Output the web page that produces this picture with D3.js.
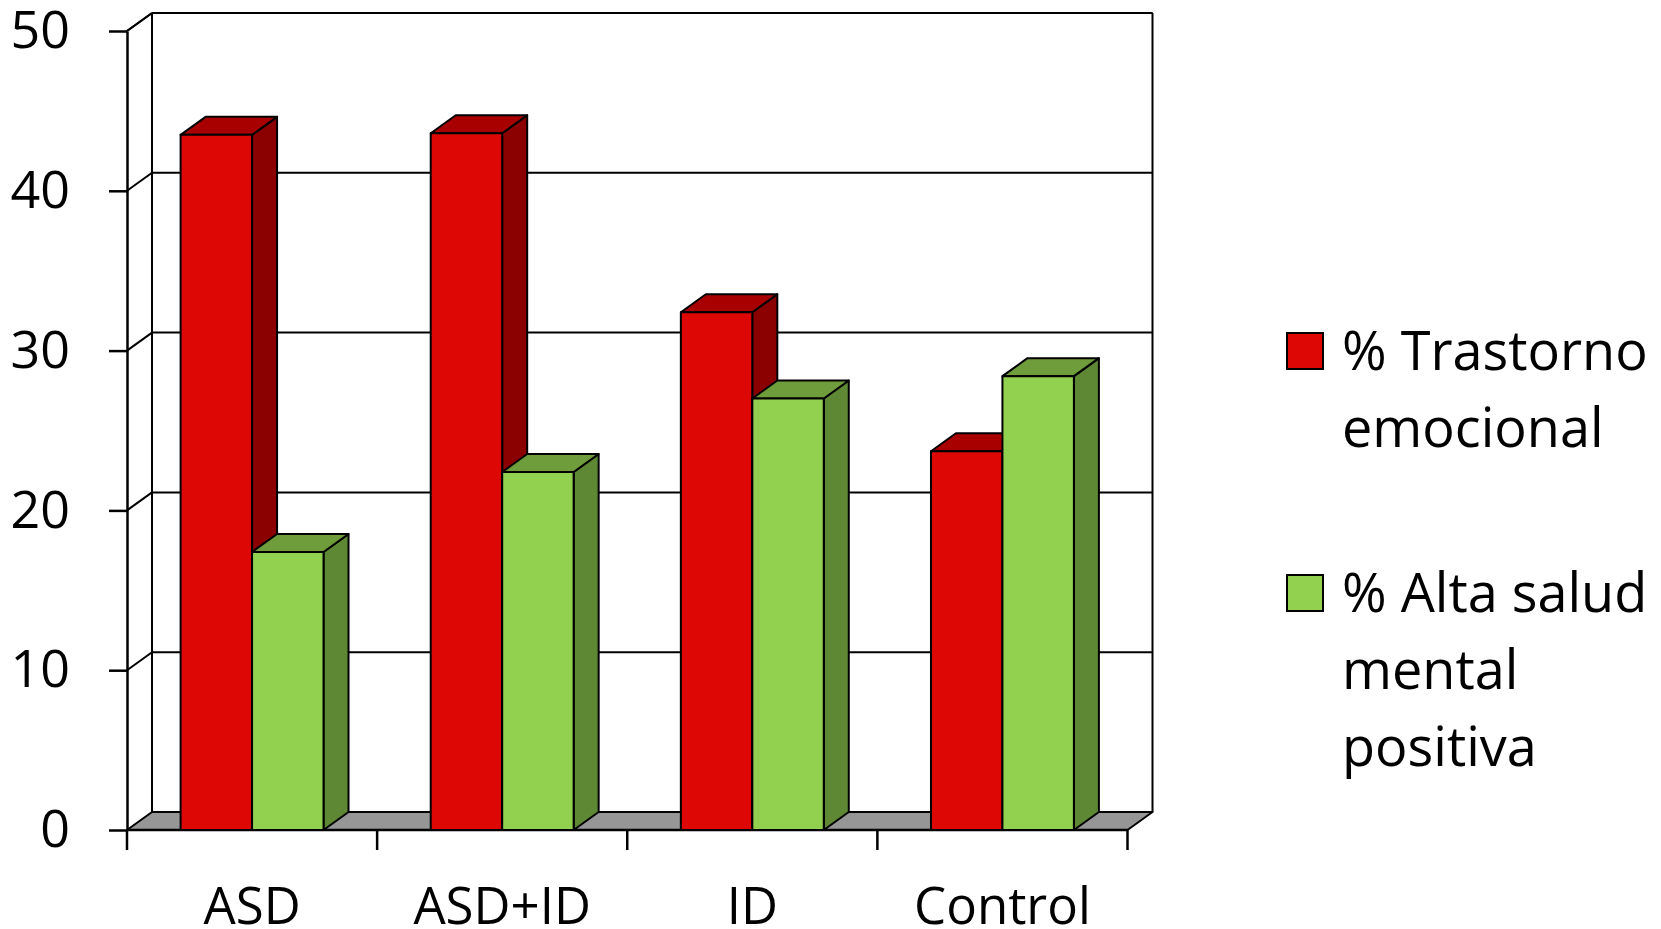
<!DOCTYPE html>
<html>
<head>
<meta charset="utf-8">
<script src="https://cdn.jsdelivr.net/npm/d3@7"></script>
<style>
  html, body { margin: 0; padding: 0; background: #fff; }
  svg { display: block; font-family: "Open Sans", Lato, sans-serif; }
</style>
</head>
<body>
<svg id="chart" width="1661" height="929"></svg>
<script>
// Categories, series and values
const categories = ["ASD", "ASD+ID", "ID", "Control"];
const seriesNames = ["% Trastorno emocional", "% Alta salud mental positiva"];
const trastorno = [43.5, 43.6, 32.4, 23.7];
const altaSalud = [17.4, 22.4, 27.0, 28.4];
const yTicks = [0, 10, 20, 30, 40, 50];
const legendLines = [["% Trastorno", "emocional"], ["% Alta salud", "mental", "positiva"]];

const seriesValues = [trastorno, altaSalud];
const faces = [
  { front: "#dd0806", top: "#a80000", side: "#8b0000" },
  { front: "#92d050", top: "#6f9d3b", side: "#5e8833" }
];
const FONT = "'Open Sans', Lato, sans-serif";

const svg = d3.select("#chart");

// 3D depth offset of the plot box
const DX = 25, DY = -18;

const x = d3.scaleBand().domain(categories).range([127, 1127.5]).padding(0);
const xs = d3.scaleBand().domain(d3.range(2)).range([0, x.bandwidth()]).paddingInner(0).paddingOuter(0.75);
const y = d3.scaleLinear().domain([0, 50]).range([830, 31]);

const x0 = x.range()[0], x1 = x.range()[1];
const yTop = y(50), yBase = y(0);

// Back wall frame
const back = svg.append("g").attr("stroke", "#000").attr("stroke-width", 2).attr("fill", "none");
back.append("line").attr("x1", x0 + DX).attr("x2", x0 + DX).attr("y1", yTop + DY).attr("y2", yBase + DY);
back.append("line").attr("x1", x1 + DX).attr("x2", x1 + DX).attr("y1", yTop + DY).attr("y2", yBase + DY);
back.append("line").attr("x1", x0 + DX).attr("x2", x1 + DX).attr("y1", yTop + DY).attr("y2", yTop + DY);

// Gridlines on back wall and the left side wall
yTicks.filter(t => t > 0).forEach(t => {
  back.append("line").attr("x1", x0 + DX).attr("x2", x1 + DX).attr("y1", y(t) + DY).attr("y2", y(t) + DY);
  back.append("line").attr("x1", x0).attr("x2", x0 + DX).attr("y1", y(t)).attr("y2", y(t) + DY);
});

// Floor
svg.append("polygon")
  .attr("points", [[x0, yBase], [x1, yBase], [x1 + DX, yBase + DY], [x0 + DX, yBase + DY]].map(p => p.join(",")).join(" "))
  .attr("fill", "#969696").attr("stroke", "#000").attr("stroke-width", 2).attr("stroke-linejoin", "round");

// Y axis
const yAxis = svg.append("g").attr("transform", `translate(${x0},0)`)
  .call(d3.axisLeft(y).tickValues(yTicks).tickSize(18).tickPadding(39).tickSizeOuter(0));
yAxis.select(".domain").attr("stroke-width", 2.5);
yAxis.selectAll(".tick line").attr("stroke-width", 2.5);
yAxis.selectAll(".tick text").attr("font-size", 52).attr("fill", "#000").attr("font-family", FONT);

// X axis: category labels, with ticks at category boundaries
const xAxis = svg.append("g").attr("transform", `translate(0,${yBase})`)
  .call(d3.axisBottom(x).tickSize(0).tickPadding(0));
xAxis.select(".domain").remove();
xAxis.selectAll(".tick text").attr("font-size", 51).attr("fill", "#000")
  .attr("font-family", FONT).attr("dy", 0).attr("y", 94);
const bounds = d3.range(categories.length + 1).map(i => x0 + i * x.step());
svg.append("g").selectAll("line").data(bounds).join("line")
  .attr("x1", d => d).attr("x2", d => d).attr("y1", yBase).attr("y2", yBase + 20)
  .attr("stroke", "#000").attr("stroke-width", 2.5);
svg.append("line").attr("x1", x0).attr("x2", x1).attr("y1", yBase).attr("y2", yBase)
  .attr("stroke", "#000").attr("stroke-width", 2.5);
svg.append("line").attr("x1", x0).attr("x2", x0 + DX).attr("y1", yTop).attr("y2", yTop + DY)
  .attr("stroke", "#000").attr("stroke-width", 2);

// 3D columns
const bars = svg.append("g").attr("stroke", "#000").attr("stroke-width", 2).attr("stroke-linejoin", "round");
categories.forEach((c, ci) => {
  seriesValues.forEach((vals, si) => {
    const v = vals[ci];
    const bx = x(c) + xs(si), bw = xs.bandwidth();
    const top = y(v), bot = y(0);
    const f = faces[si];
    const g = bars.append("g");
    // side face
    g.append("polygon")
      .attr("points", [[bx + bw, bot], [bx + bw + DX, bot + DY], [bx + bw + DX, top + DY], [bx + bw, top]].map(p => p.join(",")).join(" "))
      .attr("fill", f.side);
    // top face
    g.append("polygon")
      .attr("points", [[bx, top], [bx + DX, top + DY], [bx + bw + DX, top + DY], [bx + bw, top]].map(p => p.join(",")).join(" "))
      .attr("fill", f.top);
    // front face
    g.append("rect").attr("x", bx).attr("y", top).attr("width", bw).attr("height", bot - top)
      .attr("fill", f.front);
  });
});

// Legend
const legend = svg.append("g");
const legendY = [370, 612];
legendLines.forEach((lines, i) => {
  legend.append("rect").attr("x", 1287).attr("y", legendY[i] - 37).attr("width", 36).attr("height", 36)
    .attr("fill", faces[i].front).attr("stroke", "#000").attr("stroke-width", 2);
  lines.forEach((t, j) => {
    legend.append("text").attr("x", 1342).attr("y", legendY[i] + j * 77)
      .attr("font-size", 54).attr("font-family", FONT).attr("fill", "#000").text(t);
  });
});
</script>
</body>
</html>
